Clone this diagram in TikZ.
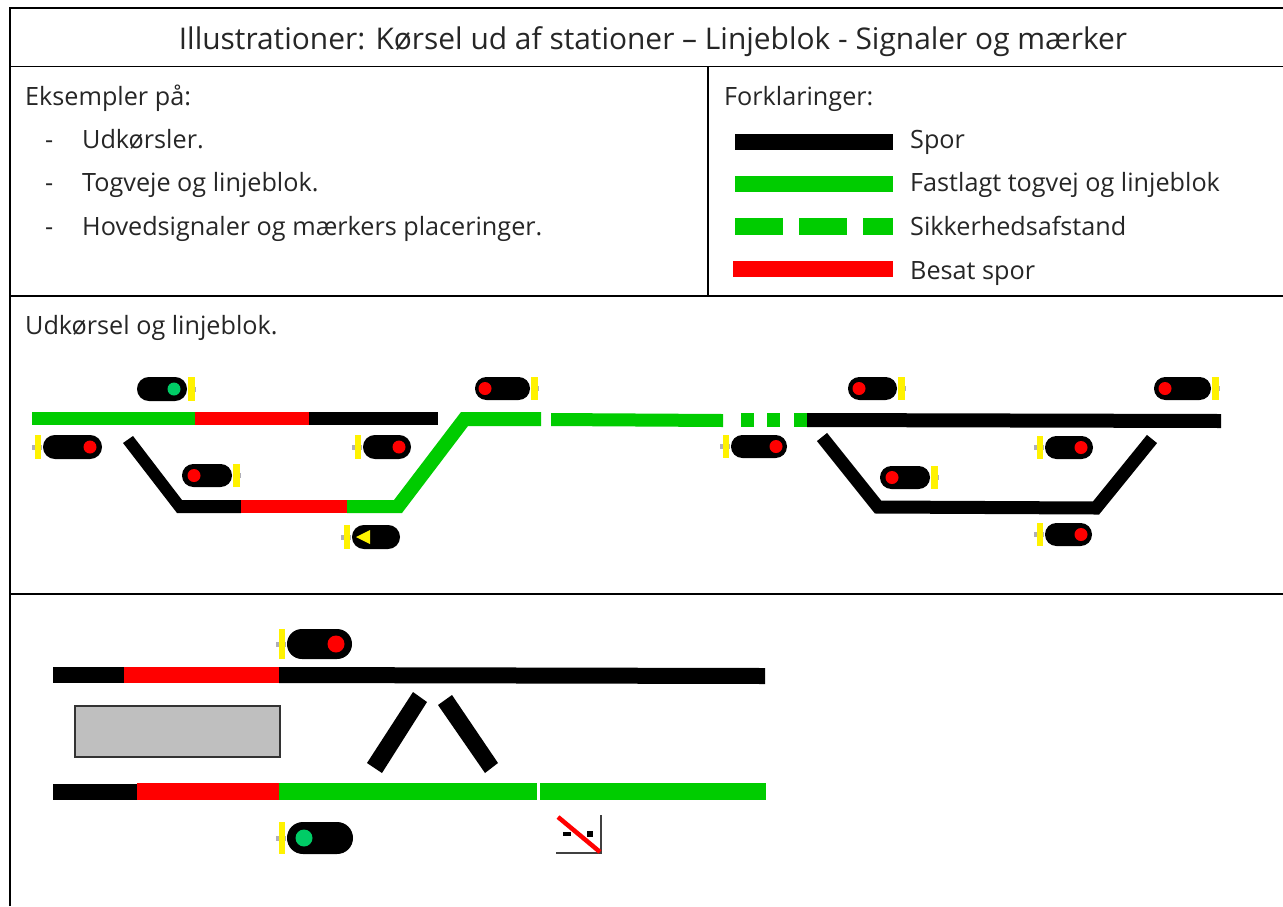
\documentclass[tikz,border=0pt]{standalone}
\usepackage{fontspec}
\setmainfont{Open Sans}
\definecolor{sporgreen}{RGB}{0,204,0}
\definecolor{lampgreen}{RGB}{0,204,102}
\definecolor{stubgray}{RGB}{175,175,185}
\definecolor{platgray}{RGB}{191,191,191}
\tikzset{
	rule/.style={line width=1.5pt},
	title/.style={anchor=base, font=\fontsize{29.9}{34}\selectfont, text=black!85, inner sep=0pt},
	body/.style={anchor=base west, font=\fontsize{25.2}{30}\selectfont, text=black!85, inner sep=0pt},
}
% signal with the yellow plate on the left: x1, x2, ytop, ybottom, lamp x, lamp colour, lamp radius
\newcommand{\signalL}[7]{
	\fill [stubgray] (#1-11,{(#3+#4)/2-2.5}) rectangle (#1-1,{(#3+#4)/2+2.5});
	\fill [yellow] (#1-8.5,#3) rectangle (#1-2,#4);
	\fill [black, rounded corners={(#4-#3)/2*1pt-0.1pt}] (#1,#3) rectangle (#2,#4);
	\fill [#6] (#5,{(#3+#4)/2}) circle (#7);
}
% the same with the plate on the right
\newcommand{\signalR}[7]{
	\fill [stubgray] (#2+1,{(#3+#4)/2-2.5}) rectangle (#2+9,{(#3+#4)/2+2.5});
	\fill [yellow] (#2+1,#3) rectangle (#2+7.5,#4);
	\fill [black, rounded corners={(#4-#3)/2*1pt-0.1pt}] (#1,#3) rectangle (#2,#4);
	\fill [#6] (#5,{(#3+#4)/2}) circle (#7);
}
\begin{document}
\begin{tikzpicture}[x=1pt, y=-1pt]
	\useasboundingbox (0,0) rectangle (1283,906);
	\fill [white] (0,0) rectangle (1283,906);

	% table
	\draw [rule] (10,906) -- (10,8) -- (1283,8);
	\draw [rule] (10,66.5) -- (1283,66.5);
	\draw [rule] (10,296) -- (1283,296);
	\draw [rule] (10,594) -- (1283,594);
	\draw [rule] (708,66.5) -- (708,296);

	\node [title] (heading) at (653,49.5) {Illustrationer: Kørsel ud af stationer – Linjeblok - Signaler og mærker};

	\node [body] (examples) at (25,105.5) {Eksempler på:};
	\node [body] (dash1) at (45,148.5) {-};
	\node [body] (dash2) at (45,191.5) {-};
	\node [body] (dash3) at (45,235.5) {-};
	\node [body] (item1) at (82,148.5) {Udkørsler.};
	\node [body] (item2) at (82,191.5) {Togveje og linjeblok.};
	\node [body] (item3) at (82,235.5) {Hovedsignaler og mærkers placeringer.};

	\node [body] (legend) at (724,105.5) {Forklaringer:};
	\node [body] (spor) at (910,148.5) {Spor};
	\node [body] (togvej) at (910,191.5) {Fastlagt togvej og linjeblok};
	\node [body] (afstand) at (910,235.5) {Sikkerhedsafstand};
	\node [body] (besat) at (910,279.5) {Besat spor};

	\node [body] (udkorsel) at (25,334.5) {Udkørsel og linjeblok.};

	% legend bars
	\fill [black] (735,134) rectangle (893,150);
	\fill [sporgreen] (735,176) rectangle (893,192);
	\fill [sporgreen] (735,218) rectangle (783,235);
	\fill [sporgreen] (799,218) rectangle (847,235);
	\fill [sporgreen] (863,218) rectangle (893,235);
	\fill [red] (733,261) rectangle (893,277);

	% left station
	\fill [sporgreen] (32,412) rectangle (195,425);
	\fill [red] (195,412) rectangle (309,425);
	\fill [black] (309,412) rectangle (438,425);
	\fill [black] (123,443) -- (133,436) -- (182,500) -- (241,500) -- (241,513) -- (177,513) -- cycle;
	\fill [red] (241,500) rectangle (347,513);
	\fill [sporgreen] (347,500) -- (394,500) -- (461,412) -- (541,412) -- (541,426) -- (468,426) -- (402,513) -- (347,513) -- cycle;

	% line block
	\fill [sporgreen] (551,413) -- (723,414) -- (723,427) -- (551,426) -- cycle;
	\fill [sporgreen] (741,413) rectangle (754,427);
	\fill [sporgreen] (767,413) rectangle (780,427);
	\fill [sporgreen] (794,413) rectangle (807,427);

	% right station
	\fill [black] (807,413) -- (1221,414) -- (1221,428) -- (807,427) -- cycle;
	\draw [line width=13pt, black] (822,437) -- (878,507) -- (1096,508) -- (1152,439);

	\signalR{137}{187}{377}{401}{174}{lampgreen}{6.5}
	\signalL{43}{102}{435}{459}{90}{red}{6.5}
	\signalL{363}{411}{435}{459}{399}{red}{6.5}
	\signalR{182}{232}{464}{487}{194}{red}{6.5}
	\signalL{352}{400}{525}{549}{0}{black}{0}
	\fill [yellow] (356,537) -- (370,530) -- (370,544) -- cycle;
	\signalR{475}{530}{377}{400}{485}{red}{6.5}
	\signalL{731}{787}{435}{458}{776}{red}{6.5}
	\signalR{848}{897}{377}{400}{859}{red}{6.5}
	\signalR{1154}{1211}{377}{400}{1165}{red}{6.5}
	\signalL{1045}{1093}{436}{459}{1081}{red}{6.5}
	\signalR{880}{930}{466}{489}{892}{red}{6.5}
	\signalL{1045}{1092}{523}{546}{1081}{red}{6.5}

	% lower picture
	\fill [black] (53,667) rectangle (124,683);
	\fill [red] (124,667) rectangle (279,683);
	\fill [black] (279,667) -- (765,668) -- (765,684) -- (279,683) -- cycle;
	\filldraw [fill=platgray, draw=black!80, line width=1.5pt] (75,706) rectangle (280,757);
	\fill [black] (413,692) -- (427,702) -- (382,773) -- (367,763) -- cycle;
	\fill [black] (452,695) -- (438,705) -- (485,773) -- (498,763) -- cycle;
	\fill [black] (53,784) rectangle (137,800);
	\fill [red] (137,783) rectangle (279,800);
	\fill [sporgreen] (279,783) rectangle (537,800);
	\fill [sporgreen] (540,783) rectangle (766,800);

	\signalL{287}{352}{629}{659}{336}{red}{8.5}
	\signalL{287}{353}{822}{854}{304}{lampgreen}{8.5}

	% sign
	\draw [line width=1.5pt, black!75] (601,815) -- (601,853) -- (556,853);
	\fill [black] (563,832) rectangle (571,836);
	\fill [black] (587,831) rectangle (593,837);
	\draw [line width=4.5pt, red] (558,817) -- (600,852);
\end{tikzpicture}
\end{document}
